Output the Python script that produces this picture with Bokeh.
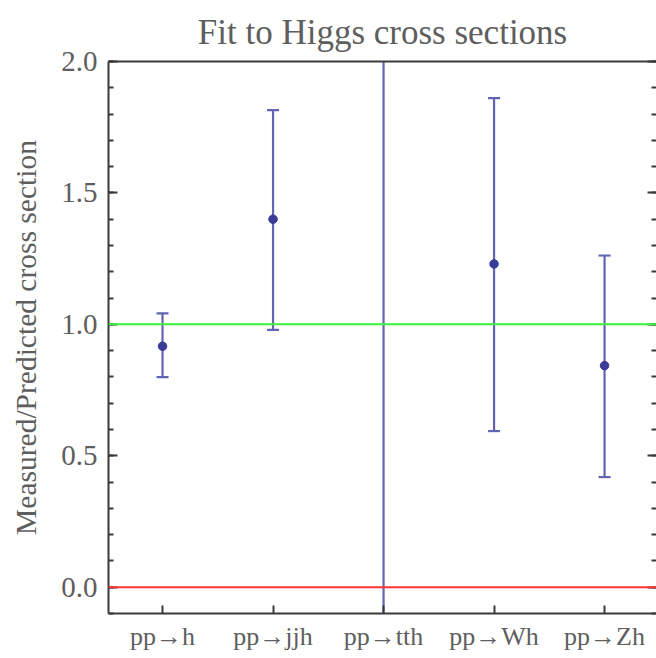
from bokeh.plotting import figure
from bokeh.models import (Range1d, FixedTicker, LinearAxis, Span,
                          PrintfTickFormatter, CustomJSTickFormatter, ColumnDataSource)
from bokeh.embed import file_html
from bokeh.resources import INLINE

# Signal strengths (measured / predicted) with their error bands
processes = ["pp\u2192h", "pp\u2192jjh", "pp\u2192tth", "pp\u2192Wh", "pp\u2192Zh"]
mu_central = [0.917, 1.40, -0.8, 1.23, 0.843]
mu_upper = [1.042, 1.815, 2.6, 1.861, 1.262]
mu_lower = [0.799, 0.979, -4.0, 0.594, 0.419]

y_major = [0.0, 0.5, 1.0, 1.5, 2.0]
y_minor = [round(-0.1 + 0.1 * i, 1) for i in range(22)]

FONT = "Liberation Serif"
TEXT = "#5e5e5e"
AXIS = "#3a3a3a"
BAR = "#6363b3"
DOT = "#3b3b98"

xpos = list(range(1, len(processes) + 1))
src = ColumnDataSource(dict(x=xpos, mu=mu_central, up=mu_upper, lo=mu_lower))

p = figure(width=656, height=658, output_backend="svg", toolbar_location=None,
           x_range=Range1d(0.511, 5.47), y_range=Range1d(-0.1, 2.0),
           min_border_left=108, min_border_right=0, min_border_top=60,
           min_border_bottom=45, y_axis_location="left")
p.outline_line_color = None
p.grid.visible = False
p.background_fill_color = "white"

p.title.text = "Fit to Higgs cross sections"
p.title.align = "center"
p.title.text_font = FONT
p.title.text_font_size = "35px"
p.title.text_font_style = "normal"
p.title.text_color = TEXT
p.title.text_line_height = 1.0
p.title.standoff = 20

# left axis
ya = p.yaxis[0]
ya.ticker = FixedTicker(ticks=y_major, minor_ticks=y_minor)
ya.formatter = PrintfTickFormatter(format="%.1f")
ya.axis_label = "Measured/Predicted cross section"
ya.axis_label_text_font = FONT
ya.axis_label_text_font_size = "29.5px"
ya.axis_label_text_font_style = "normal"
ya.axis_label_text_color = TEXT
ya.axis_label_standoff = 16
ya.major_label_text_font = FONT
ya.major_label_text_font_size = "29px"
ya.major_label_text_color = TEXT
ya.major_label_standoff = 11
ya.axis_line_color = AXIS
ya.axis_line_width = 2
ya.major_tick_in = 9
ya.major_tick_out = 0
ya.minor_tick_in = 5
ya.minor_tick_out = 0
ya.major_tick_line_color = AXIS
ya.minor_tick_line_color = AXIS
ya.major_tick_line_width = 2
ya.minor_tick_line_width = 2

# bottom axis with process labels
xa = p.xaxis[0]
xa.ticker = FixedTicker(ticks=xpos, minor_ticks=[])
xa.major_label_overrides = {i: name for i, name in zip(xpos, processes)}
xa.major_label_text_font = FONT
xa.major_label_text_font_size = "26px"
xa.major_label_text_color = TEXT
xa.major_label_standoff = 8
xa.axis_line_color = AXIS
xa.axis_line_width = 2
xa.major_tick_in = 8
xa.major_tick_out = 0
xa.minor_tick_in = 0
xa.minor_tick_out = 0
xa.major_tick_line_color = AXIS
xa.major_tick_line_width = 2

# top frame edge (a bare axis line, no ticks or labels)
top = LinearAxis(ticker=FixedTicker(ticks=[]), formatter=CustomJSTickFormatter(code="return ''"),
                 major_label_text_font_size="1px",
                 major_tick_in=0, major_tick_out=0, minor_tick_in=0, minor_tick_out=0,
                 axis_line_color=AXIS, axis_line_width=2, major_label_standoff=0)
p.add_layout(top, "above")

# right side: ticks only
right = LinearAxis(ticker=FixedTicker(ticks=y_major, minor_ticks=y_minor),
                   formatter=CustomJSTickFormatter(code="return ''"), major_label_standoff=0,
                   axis_line_color=None, major_tick_in=9, major_tick_out=0,
                   minor_tick_in=5, minor_tick_out=0,
                   major_tick_line_color=AXIS, minor_tick_line_color=AXIS,
                   major_tick_line_width=2, minor_tick_line_width=2)
p.add_layout(right, "right")

# error bars, caps and central values
p.segment(x0="x", y0="lo", x1="x", y1="up", source=src, line_color=BAR, line_width=2.2)
p.scatter(x="x", y="up", source=src, marker="dash", size=12, line_color=BAR, line_width=2.2)
p.scatter(x="x", y="lo", source=src, marker="dash", size=12, line_color=BAR, line_width=2.2)
p.scatter(x="x", y="mu", source=src, marker="circle", size=8.5,
          fill_color=DOT, line_color=DOT)

# reference levels
p.add_layout(Span(location=1.0, dimension="width", line_color="#3cf03c", line_width=2))
p.add_layout(Span(location=0.0, dimension="width", line_color="#ff3535", line_width=2))

open("out.html", "w").write(file_html(p, INLINE))
